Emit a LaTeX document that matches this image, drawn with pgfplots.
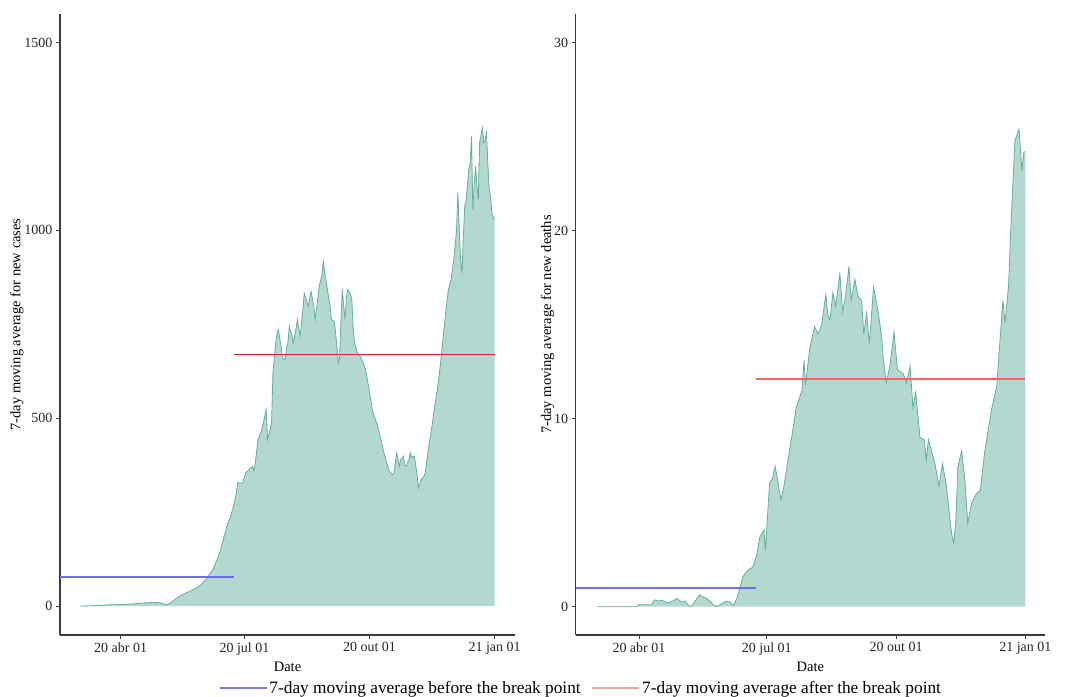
\documentclass[border=0pt]{standalone}
\usepackage{pgfplots}
\usepackage{pgfplotstable}
\pgfplotsset{compat=1.18}
\usepackage{fontspec}
\setmainfont{Liberation Serif}

\definecolor{areafill}{RGB}{179,216,207}
\definecolor{arealine}{RGB}{100,175,155}
\definecolor{bluel}{RGB}{110,110,235}
\definecolor{redl}{RGB}{235,30,30}
\definecolor{redr}{RGB}{240,100,100}
\definecolor{bluelg}{RGB}{120,120,230}
\definecolor{redlg}{RGB}{245,165,165}
\definecolor{axgray}{RGB}{60,60,60}

\pgfplotstableread{
day value
-30 0
-20 1
-10 3
0 4
10 6
20 9
26 10
30 8
34 3
38 12
43 26
50 38
58 53
63 72
68 98
73 143
78 212
81 240
83 266
85 300
86 329
88 326
90 330
92 355
95 365
97 372
98 359
99 380
101 444
103 460
105 489
107 523
108 444
110 470
111 489
112 621
114 700
115 727
116 736
118 690
119 660
121 655
122 690
123 700
124 744
126 720
127 700
129 740
130 763
132 718
134 790
135 833
137 810
138 798
140 838
142 800
143 763
145 820
146 851
148 880
149 918
150 890
152 843
154 800
155 763
157 758
158 730
159 692
160 648
161 660
162 760
163 843
164 800
165 763
166 820
167 843
169 830
170 816
171 740
172 700
174 675
176 665
178 650
180 630
181 612
183 570
185 523
187 500
189 479
191 450
193 417
195 390
197 364
199 352
200 350
201 355
203 408
205 372
206 390
208 399
209 375
210 372
212 390
213 408
214 395
216 399
218 350
219 315
221 337
223 345
224 355
226 410
227 435
229 480
231 532
233 580
235 638
237 709
239 780
241 843
243 870
245 922
247 1000
248 1100
249 1000
250 920
251 886
252 980
253 1064
254 1080
256 1162
257 1180
258 1250
259 1055
260 1120
261 1170
262 1120
263 1082
264 1234
266 1273
267 1234
268 1240
269 1260
270 1180
271 1108
272 1090
273 1047
274 1035
275 1029
}\cases

\pgfplotstableread{
day value
-30 0
-2 0
0 0.1
5 0.1
9 0.1
11 0.36
14 0.3
17 0.35
20 0.2
24 0.3
27 0.45
30 0.25
33 0.3
35 0.1
37 0
40 0.3
43 0.62
46 0.5
48 0.45
50.5 0.3
53 0.1
55 0
58 0.1
62 0.3
65 0.25
67 0.05
70 0.5
74 1.6
77.6 1.95
81 2.1
84 2.8
86 3.7
89 4.1
90 3.0
93 6.6
95 6.8
97 7.45
99 6.6
101 5.7
103 6.3
105 7.3
108.7 9.0
112 10.6
116 11.5
117.5 13.1
118.5 11.8
121.7 13.8
125 14.9
127.6 14.5
130 15.0
133 16.6
134.5 15.5
136 15.25
138 16.7
140 16.0
143 17.7
145 15.7
147 16.5
149.5 18.1
151 16.3
153.7 17.4
156 16.5
158.5 16.3
160 14.5
162 15.6
164 14.0
167 17.0
170 15.8
172.7 14.4
174 13.1
176 11.9
178.6 12.8
181.5 14.6
184 12.6
188 12.4
190.5 11.9
193 12.8
195 10.6
197 11.4
200 9.0
203 8.9
204.5 7.8
206 8.9
210.7 7.6
213.5 6.4
216 7.6
218.5 6.6
222.5 3.9
224 3.4
225.5 4.5
227 7.45
229.7 8.3
232 6.7
234 4.45
236.8 5.5
240 6.0
243 6.2
246 8.2
251 10.5
254.6 11.7
257 14.2
259 16.3
260.5 15.1
263 17.0
265 20.7
267.6 24.8
270.5 25.4
272.6 23.2
274 24.2
275 24.2
}\deaths

\pgfplotsset{
  panel/.style={
    scale only axis,
    anchor=south west,
    axis lines=left,
    axis line style={-, draw=axgray, line width=1.1pt},
    tick align=outside,
    major tick length=4pt,
    tick style={draw=axgray, line width=0.8pt},
    xtick={0,91,183,275},
    xticklabels={20 abr 01,20 jul 01,20 out 01,21 jan 01},
    /pgf/number format/assume math mode=true,
    /pgf/number format/1000 sep={},
    tick label style={font=\fontsize{14}{16}\selectfont, text=black!85},
    label style={font=\fontsize{14.5}{17}\selectfont},
    xlabel={Date},
    clip=false,
  },
}

\begin{document}
\begin{tikzpicture}
\path[use as bounding box] (0,0) rectangle (1070pt,696pt);

\begin{axis}[panel,
  at={(60pt,61pt)}, width=455pt, height=621pt,
  xmin=-44.6, xmax=290, ymin=-77, ymax=1576,
  ytick={0,500,1000,1500},
  ylabel={7-day moving average for new cases},
  ylabel shift=-6pt,
  legend style={at={(axis description cs:1.145,-0.085)}, anchor=center,
    draw=none, fill=none, legend columns=2,
    font=\fontsize{17.3}{20}\selectfont,
    /tikz/every even column/.append style={column sep=9pt}},
  legend cell align=left,
  legend image code/.code={\draw[#1, line width=1.5pt] (0pt,0pt) -- (47pt,0pt);},
]
\addplot[fill=areafill, draw=none, forget plot] table[x=day,y=value] {\cases} \closedcycle;
\addplot[arealine, line width=0.8pt, forget plot] table[x=day,y=value] {\cases};
\addplot[bluel, line width=1.4pt, forget plot] coordinates {(-44.6,77) (83.5,77)};
\addplot[redl, line width=1.6pt, forget plot] coordinates {(83.5,670) (275,670)};
\addlegendimage{bluelg}
\addlegendentry{7-day moving average before the break point}
\addlegendimage{redlg}
\addlegendentry{7-day moving average after the break point}
\end{axis}

\begin{axis}[panel,
  at={(575.7pt,61pt)}, width=469.3pt, height=621pt,
  xmin=-45, xmax=289, ymin=-1.505, ymax=31.53,
  ytick={0,10,20,30},
  ylabel={7-day moving average for new deaths},
  ylabel shift=-7pt,
]
\addplot[fill=areafill, draw=none] table[x=day,y=value] {\deaths} \closedcycle;
\addplot[arealine, line width=0.8pt] table[x=day,y=value] {\deaths};
\addplot[bluel, line width=1.4pt] coordinates {(-45,1.0) (83.6,1.0)};
\addplot[redr, line width=1.8pt] coordinates {(83,12.1) (275,12.1)};
\end{axis}
\end{tikzpicture}
\end{document}
